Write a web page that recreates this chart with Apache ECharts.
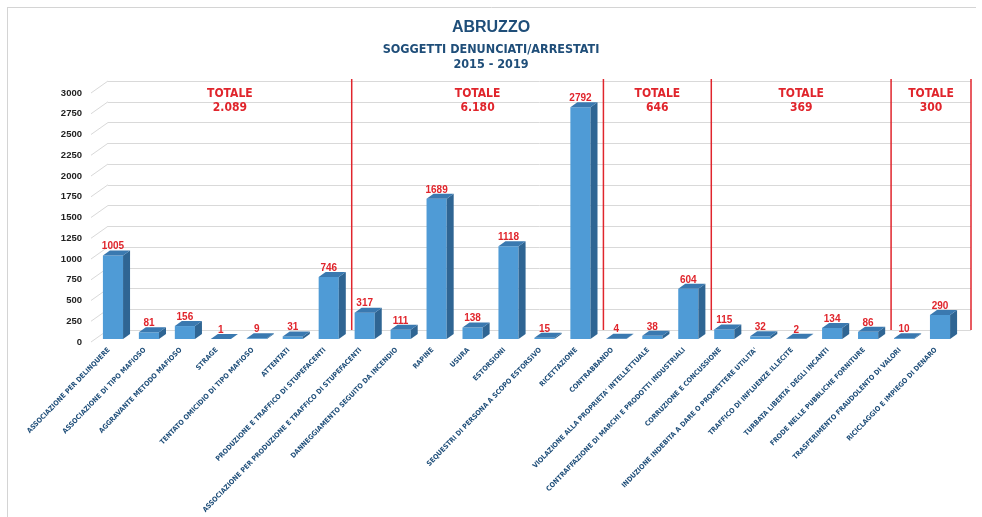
<!DOCTYPE html>
<html>
<head>
<meta charset="utf-8">
<script src="https://cdn.jsdelivr.net/npm/echarts@6/dist/echarts.min.js"></script>
<style>
  html, body { margin: 0; padding: 0; background: #ffffff; }
  #chart { width: 982px; height: 517px; }
</style>
</head>
<body>
<div id="chart"></div>
<script>
// Reati: soggetti denunciati/arrestati in Abruzzo, 2015 - 2019
const categories = [
  'ASSOCIAZIONE PER DELINQUERE',
  'ASSOCIAZIONE DI TIPO MAFIOSO',
  'AGGRAVANTE METODO MAFIOSO',
  'STRAGE',
  'TENTATO OMICIDIO DI TIPO MAFIOSO',
  'ATTENTATI',
  'PRODUZIONE E TRAFFICO DI STUPEFACENTI',
  'ASSOCIAZIONE PER PRODUZIONE E TRAFFICO DI STUPEFACENTI',
  'DANNEGGIAMENTO SEGUITO DA INCENDIO',
  'RAPINE',
  'USURA',
  'ESTORSIONI',
  'SEQUESTRI DI PERSONA A SCOPO ESTORSIVO',
  'RICETTAZIONE',
  'CONTRABBANDO',
  "VIOLAZIONE ALLA PROPRIETA' INTELLETTUALE",
  'CONTRAFFAZIONE DI MARCHI E PRODOTTI INDUSTRIALI',
  'CORRUZIONE E CONCUSSIONE',
  "INDUZIONE INDEBITA A DARE O PROMETTERE UTILITA'",
  'TRAFFICO DI INFLUENZE ILLECITE',
  "TURBATA LIBERTA' DEGLI INCANTI",
  'FRODE NELLE PUBBLICHE FORNITURE',
  'TRASFERIMENTO FRAUDOLENTO DI VALORI',
  'RICICLAGGIO E IMPIEGO DI DENARO'
];
const values = [1005, 81, 156, 1, 9, 31, 746, 317, 111, 1689, 138, 1118, 15, 2792,
                4, 38, 604, 115, 32, 2, 134, 86, 10, 290];

// first category of each block and the total printed above it
const groupStarts = [0, 7, 14, 17, 22];
const groupTotals = ['2.089', '6.180', '646', '369', '300'];

const Y_MAX = 3000;
const Y_STEP = 250;

const NARROW = "'Liberation Sans Narrow', 'DejaVu Sans Condensed', 'Liberation Sans', sans-serif";
const SANS = "'Liberation Sans', Arial, sans-serif";
const RED = '#e0252c';
const NAVY = '#1f4e79';
const GRID_LINE = '#d9d9d9';

// pseudo-3D geometry, in pixels
const WALL_DX = 17, WALL_DY = -12;   // back wall relative to the axis plane
const BAR_OX = 4, BAR_OY = -3;       // front face of the columns
const BAR_DX = 7, BAR_DY = -5;       // column depth
const SEP_DX = 9;                    // block separators sit mid-depth
const BAR_RATIO = 0.56;

const FRONT = { left: 91, right: 28, top: 93, bottom: 175 };
const BACK = {
  left: FRONT.left + WALL_DX, right: FRONT.right - WALL_DX,
  top: FRONT.top + WALL_DY, bottom: FRONT.bottom - WALL_DY
};

const tickValues = [];
for (let v = 0; v <= Y_MAX; v += Y_STEP) tickValues.push(v);

function renderColumn(params, api) {
  const i = api.value(0);
  const v = api.value(1);
  const base = api.coord([i, 0]);
  const top = api.coord([i, v]);
  const band = api.size([1, 0])[0];
  const w = band * BAR_RATIO;
  const x0 = base[0] - w / 2 + BAR_OX;
  const x1 = x0 + w;
  const yb = base[1] + BAR_OY;
  const yt = top[1] + BAR_OY;
  return {
    type: 'group',
    children: [
      { type: 'rect', shape: { x: x0, y: yt, width: w, height: yb - yt },
        style: { fill: '#4f9bd6' } },
      { type: 'polygon',
        shape: { points: [[x1, yt], [x1 + BAR_DX, yt + BAR_DY], [x1 + BAR_DX, yb + BAR_DY], [x1, yb]] },
        style: { fill: '#2f6593' } },
      { type: 'polygon',
        shape: { points: [[x0, yt], [x0 + BAR_DX, yt + BAR_DY], [x1 + BAR_DX, yt + BAR_DY], [x1, yt]] },
        style: { fill: '#3a79b0' } },
      { type: 'text', x: (x0 + x1) / 2, y: yt + BAR_DY - 4,
        style: { text: String(v), fill: RED, fontSize: 10, fontWeight: 'bold',
                 fontFamily: SANS, align: 'center', verticalAlign: 'middle' } }
    ]
  };
}

function renderConnector(params, api) {
  const v = api.value(1);
  const p = api.coord([0, v]);
  const band = api.size([1, 0])[0];
  const x = p[0] - band / 2;
  return {
    type: 'line',
    shape: { x1: x, y1: p[1], x2: x + WALL_DX, y2: p[1] + WALL_DY },
    style: { stroke: GRID_LINE, lineWidth: 1 }
  };
}

function renderBlock(params, api) {
  const s = api.value(0);
  const g = params.dataIndex;
  const n = categories.length;
  const e = g + 1 < groupStarts.length ? groupStarts[g + 1] : n;
  const band = api.size([1, 0])[0];
  const edge = b => (b === 0 ? api.coord([0, 0])[0] - band / 2 : api.coord([b - 1, 0])[0] + band / 2);
  const left = g === 0 ? edge(0) + WALL_DX : edge(s) + SEP_DX;
  const right = e === n ? edge(e) + WALL_DX : edge(e) + SEP_DX;
  const yTop = api.coord([0, Y_MAX])[1] + WALL_DY;
  const yBot = api.coord([0, 0])[1] + WALL_DY;
  return {
    type: 'group',
    children: [
      { type: 'line', shape: { x1: right, y1: yTop - 2, x2: right, y2: yBot },
        style: { stroke: RED, lineWidth: 1.5 } },
      { type: 'text', x: (left + right) / 2, y: yTop + 6,
        style: { text: 'TOTALE\n' + groupTotals[g], fill: RED, fontSize: 12, fontWeight: 'bold',
                 fontFamily: NARROW, align: 'center', verticalAlign: 'top', lineHeight: 14 } }
    ]
  };
}

const chart = echarts.init(document.getElementById('chart'), null, { renderer: 'canvas' });

chart.setOption({
  backgroundColor: '#ffffff',
  animation: false,
  title: [
    { text: 'ABRUZZO', left: 'center', top: 15,
      textStyle: { color: NAVY, fontSize: 16, fontWeight: 'bold', fontFamily: SANS } },
    { text: 'SOGGETTI DENUNCIATI/ARRESTATI', left: 'center', top: 38,
      textStyle: { color: NAVY, fontSize: 12.5, fontWeight: 'bold', fontFamily: NARROW } },
    { text: '2015 - 2019', left: 'center', top: 53,
      textStyle: { color: NAVY, fontSize: 12.5, fontWeight: 'bold', fontFamily: NARROW } }
  ],
  graphic: [
    { type: 'line', shape: { x1: 7, y1: 7.5, x2: 976, y2: 7.5 }, style: { stroke: '#d4d4d4', lineWidth: 1 } },
    { type: 'line', shape: { x1: 7.5, y1: 7, x2: 7.5, y2: 517 }, style: { stroke: '#d4d4d4', lineWidth: 1 } }
  ],
  grid: [
    Object.assign({ containLabel: false }, FRONT),
    Object.assign({ containLabel: false }, BACK)
  ],
  xAxis: [
    { type: 'category', gridIndex: 0, data: categories,
      axisLine: { show: false }, axisTick: { show: false },
      axisLabel: { interval: 0, rotate: 46, margin: 7, color: NAVY, fontSize: 7,
                   fontWeight: 'bold', fontFamily: NARROW } },
    { type: 'category', gridIndex: 1, data: categories, show: false }
  ],
  yAxis: [
    { type: 'value', gridIndex: 0, min: 0, max: Y_MAX, interval: Y_STEP,
      axisLine: { show: false }, axisTick: { show: false }, splitLine: { show: false },
      axisLabel: { margin: 9, color: '#222222', fontSize: 9.5, fontWeight: 'bold', fontFamily: SANS,
                   formatter: v => String(v) } },
    { type: 'value', gridIndex: 1, min: 0, max: Y_MAX, interval: Y_STEP,
      axisLine: { show: false }, axisTick: { show: false }, axisLabel: { show: false },
      splitLine: { show: true, lineStyle: { color: GRID_LINE, width: 1 } } }
  ],
  series: [
    { type: 'custom', xAxisIndex: 0, yAxisIndex: 0, silent: true,
      data: tickValues.map(v => [0, v]), renderItem: renderConnector, z: 1 },
    { type: 'custom', xAxisIndex: 0, yAxisIndex: 0, silent: true,
      data: groupStarts.map(s => [s, 0]), renderItem: renderBlock, z: 2 },
    { type: 'custom', xAxisIndex: 0, yAxisIndex: 0,
      data: values.map((v, i) => [i, v]), renderItem: renderColumn, z: 3 }
  ]
});
</script>
</body>
</html>
